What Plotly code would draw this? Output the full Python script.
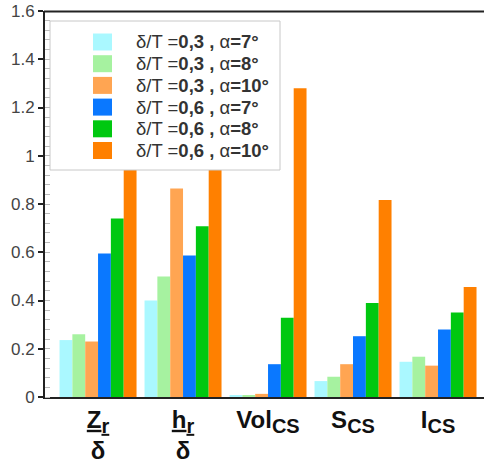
import plotly.graph_objects as go

categories = ["Zr_delta", "hr_delta", "Vol_CS", "S_CS", "I_CS"]
SUB = "<sub><span style='font-size:20px'>{}</span></sub>"
tick_labels = [
    "<b><u>Z" + SUB.format("r") + "</u><br>δ</b>",
    "<b><u>h" + SUB.format("r") + "</u><br>δ</b>",
    "<b>Vol" + SUB.format("CS") + "</b>",
    "<b>S" + SUB.format("CS") + "</b>",
    "<b>I" + SUB.format("CS") + "</b>",
]

series_names = [
    "δ/T =<b>0,3 , </b>α<b>=7°</b>",
    "δ/T =<b>0,3 , </b>α<b>=8°</b>",
    "δ/T =<b>0,3 , </b>α<b>=10°</b>",
    "δ/T =<b>0,6 , </b>α<b>=7°</b>",
    "δ/T =<b>0,6 , </b>α<b>=8°</b>",
    "δ/T =<b>0,6 , </b>α<b>=10°</b>",
]

d03_a7 = [0.236, 0.40, 0.005, 0.066, 0.146]
d03_a8 = [0.26, 0.50, 0.008, 0.084, 0.167]
d03_a10 = [0.23, 0.864, 0.013, 0.136, 0.13]
d06_a7 = [0.595, 0.587, 0.136, 0.252, 0.28]
d06_a8 = [0.74, 0.708, 0.328, 0.39, 0.35]
d06_a10 = [1.0, 1.0, 1.28, 0.817, 0.456]

series_values = [d03_a7, d03_a8, d03_a10, d06_a7, d06_a8, d06_a10]
colors = ["#AAF8FF", "#A6F2A0", "#FFA552", "#0A78FF", "#00C810", "#FF8000"]

W, H = 484, 467
ML, MR, MT, MB = 45, 0, 11, 70
PW, PH = W - ML - MR, H - MT - MB


def px_x(px):
    return (px - ML) / PW


def px_y(py):
    return (H - MB - py) / PH


fig = go.Figure()
for name, vals, col in zip(series_names, series_values, colors):
    fig.add_trace(go.Bar(x=categories, y=vals, name=name, marker=dict(color=col, line=dict(width=0)),
                         showlegend=False))

# top frame line
fig.add_shape(type="line", xref="paper", yref="paper", x0=px_x(44), x1=px_x(484),
              y0=px_y(11.5), y1=px_y(11.5),
              line=dict(color="#222", width=2), layer="above")

# legend frame (white box over the plot) with swatches and labels
fig.add_shape(type="rect", xref="paper", yref="paper",
              x0=px_x(50), x1=px_x(280), y0=px_y(170), y1=px_y(21),
              fillcolor="white", line=dict(color="#c8c8c8", width=1), layer="above")
row0, pitch = 42, 21.7
for i, (name, col) in enumerate(zip(series_names, colors)):
    yc = row0 + i * pitch
    fig.add_shape(type="rect", xref="paper", yref="paper",
                  x0=px_x(93), x1=px_x(112), y0=px_y(yc + 8.5), y1=px_y(yc - 8.5),
                  fillcolor=col, line=dict(width=0), layer="above")
    fig.add_annotation(x=px_x(134), y=px_y(yc), xref="paper", yref="paper",
                       xanchor="left", yanchor="middle", showarrow=False,
                       text=name, font=dict(size=18.5, color="#333"))

fig.update_layout(
    width=W, height=H,
    margin=dict(l=ML, r=MR, t=MT, b=MB),
    paper_bgcolor="white", plot_bgcolor="white",
    barmode="group", bargap=0.094, bargroupgap=0,
    showlegend=False,
    font=dict(family="Liberation Sans, Arial, sans-serif", color="#333"),
)
fig.update_xaxes(
    type="category", range=[-0.624, 4.541], automargin=False,
    tickvals=categories, ticktext=tick_labels,
    tickfont=dict(size=24, color="#111"),
    showline=True, linecolor="#222", linewidth=2, mirror=False,
    ticks="", showgrid=False,
)
fig.update_yaxes(
    range=[0, 1.6], dtick=0.2, tickformat="~g", automargin=False,
    tickfont=dict(size=17, color="#444"),
    showline=True, linecolor="#222", linewidth=2, mirror=False,
    ticks="outside", ticklen=5, tickcolor="#222", tickwidth=1.5,
    minor=dict(dtick=0.04, ticks="inside", ticklen=5, tickcolor="#bbb", tickwidth=1, showgrid=False),
    showgrid=False, zeroline=False,
)

fig.write_html("out.html", config={"displayModeBar": False},
               post_script="document.body.style.margin='0';")
